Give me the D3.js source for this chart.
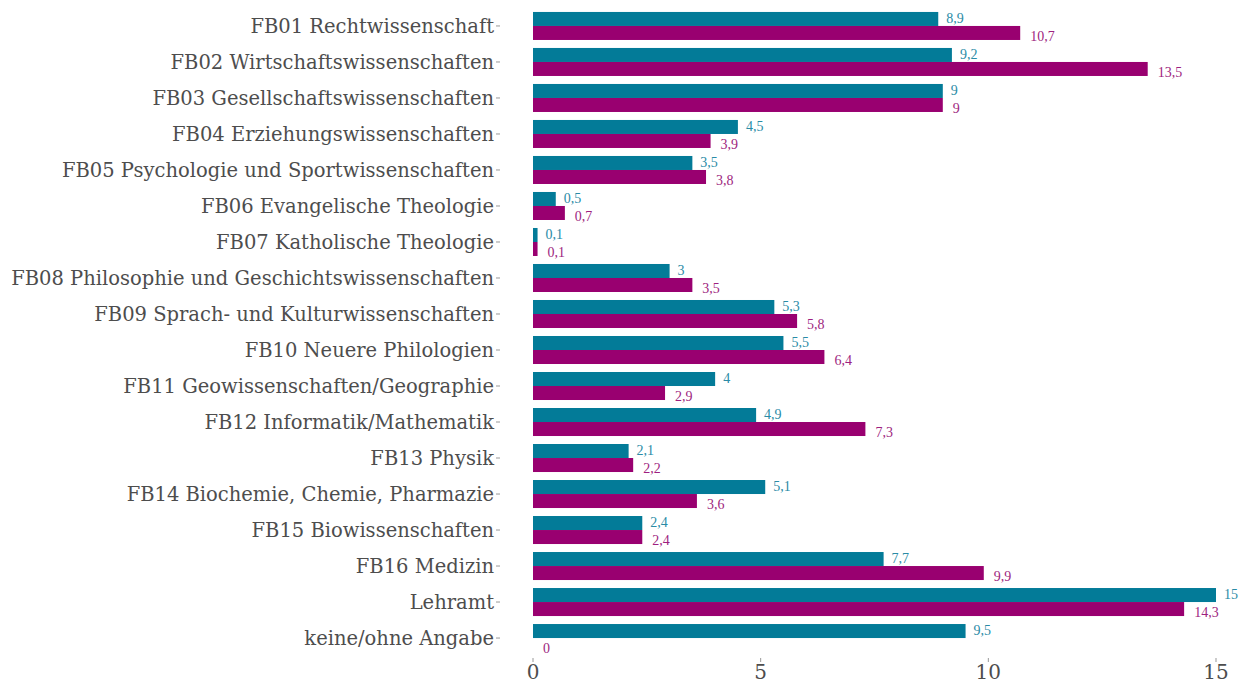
<!DOCTYPE html>
<html lang="de">
<head>
<meta charset="UTF-8">
<script src="https://cdn.jsdelivr.net/npm/d3@7"></script>
<style>
  body { margin: 0; background: #fff; }
</style>
</head>
<body>
<div id="viz"></div>
<script>
const categories = [
  "FB01 Rechtwissenschaft",
  "FB02 Wirtschaftswissenschaften",
  "FB03 Gesellschaftswissenschaften",
  "FB04 Erziehungswissenschaften",
  "FB05 Psychologie und Sportwissenschaften",
  "FB06 Evangelische Theologie",
  "FB07 Katholische Theologie",
  "FB08 Philosophie und Geschichtswissenschaften",
  "FB09 Sprach- und Kulturwissenschaften",
  "FB10 Neuere Philologien",
  "FB11 Geowissenschaften/Geographie",
  "FB12 Informatik/Mathematik",
  "FB13 Physik",
  "FB14 Biochemie, Chemie, Pharmazie",
  "FB15 Biowissenschaften",
  "FB16 Medizin",
  "Lehramt",
  "keine/ohne Angabe"
]
const tealValues = [8.9, 9.2, 9, 4.5, 3.5, 0.5, 0.1, 3, 5.3, 5.5, 4, 4.9, 2.1, 5.1, 2.4, 7.7, 15, 9.5]
const purpleValues = [10.7, 13.5, 9, 3.9, 3.8, 0.7, 0.1, 3.5, 5.8, 6.4, 2.9, 7.3, 2.2, 3.6, 2.4, 9.9, 14.3, 0]
const xTicks = [0, 5, 10, 15]

const rows = categories.map((c, i) => ({ cat: c, teal: tealValues[i], purple: purpleValues[i] }))

const W = 1239, H = 685
const svg = d3.select("#viz").append("svg")
  .attr("width", W).attr("height", H)
  .style("font-family", "'DejaVu Serif', serif")

const x = d3.scaleLinear().domain([0, 15]).range([533, 1216])
const y = d3.scaleBand().domain(categories).range([8, 656]).paddingInner(0.222).paddingOuter(0.11)

const tealCol = "#037b98", purpleCol = "#990070"
const fmt = v => String(v).replace(".", ",")

// category labels + tiny ticks
const yAxis = svg.append("g")
rows.forEach(d => {
  const cy = y(d.cat) + y.bandwidth() / 2
  yAxis.append("text")
    .attr("x", 494).attr("y", cy)
    .attr("text-anchor", "end").attr("dy", "0.35em")
    .attr("fill", "#4d4d4d").style("font-size", "19.5px")
    .text(d.cat)
  yAxis.append("line")
    .attr("x1", 496).attr("x2", 500).attr("y1", cy).attr("y2", cy)
    .attr("stroke", "#999").attr("stroke-width", 1)
})

const bh = y.bandwidth() / 2
const g = svg.selectAll(".row").data(rows).enter().append("g")

g.append("rect")
  .attr("x", x(0)).attr("y", d => y(d.cat))
  .attr("width", d => x(d.teal) - x(0)).attr("height", bh)
  .attr("fill", tealCol)
g.append("rect")
  .attr("x", x(0)).attr("y", d => y(d.cat) + bh)
  .attr("width", d => x(d.purple) - x(0)).attr("height", bh)
  .attr("fill", purpleCol)

g.append("text")
  .attr("x", d => x(d.teal) + 8).attr("y", d => y(d.cat) + bh / 2)
  .attr("dy", "0.3em").attr("fill", "#2a8ba6")
  .style("font-family", "'Liberation Serif', serif").style("font-size", "14px")
  .text(d => fmt(d.teal))
g.append("text")
  .attr("x", d => x(d.purple) + 10).attr("y", d => y(d.cat) + bh * 1.5 + 3)
  .attr("dy", "0.35em").attr("fill", "#9e1f80")
  .style("font-family", "'Liberation Serif', serif").style("font-size", "14px")
  .text(d => fmt(d.purple))

// x axis
const xAxis = svg.append("g")
xTicks.forEach(t => {
  xAxis.append("line")
    .attr("x1", x(t)).attr("x2", x(t)).attr("y1", 658).attr("y2", 662)
    .attr("stroke", "#999")
  xAxis.append("text")
    .attr("x", x(t)).attr("y", 679)
    .attr("text-anchor", "middle").attr("fill", "#4d4d4d").style("font-size", "20px")
    .text(t)
})
</script>
</body>
</html>
